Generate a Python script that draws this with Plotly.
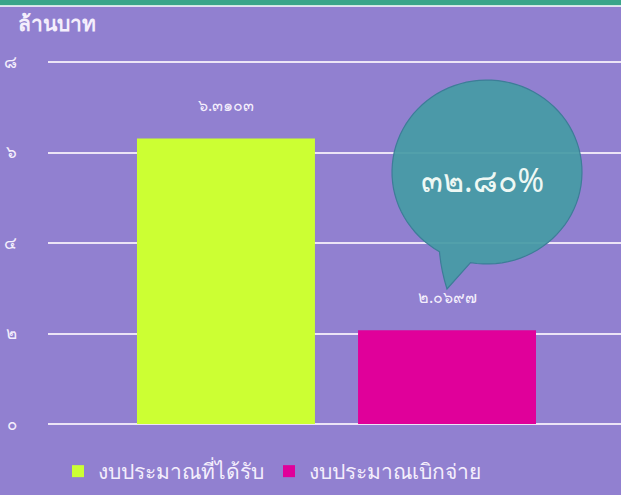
import plotly.graph_objects as go
import numpy as np

# ---- data ----
categories = ["งบประมาณที่ได้รับ", "งบประมาณเบิกจ่าย"]
values = [6.3103, 2.0697]
value_labels = ["๖.๓๑๐๓", "๒.๐๖๙๗"]
percent_label = "๓๒.๘๐%"
tick_vals = [0, 2, 4, 6, 8]
tick_text = ["๐", "๒", "๔", "๖", "๘"]
unit_title = "ล้านบาท"
bar_colors = ["#ccff33", "#e0009a"]

W, H = 621, 495
L, R, T, B = 48, 0, 56, 71
BG = "#9180d0"
TXT = "#f4eefc"
FONT = "Tahoma, 'Noto Sans', 'DejaVu Sans', sans-serif"
YMAX = 8 * (H - B - T) / 362.0

fig = go.Figure()
for i, (c, v) in enumerate(zip(categories, values)):
    fig.add_trace(go.Bar(
        x=[i], y=[v], name=c, marker=dict(color=bar_colors[i], line=dict(width=0)),
        width=0.805, showlegend=True, hoverinfo="skip",
    ))
    fig.add_annotation(x=i, y=v, xref="x", yref="y", text=value_labels[i],
                       showarrow=False, yshift=33, xanchor="center", yanchor="middle",
                       font=dict(color=TXT, size=16, family=FONT))

# helpers: pixel -> paper
pw, ph = W - L - R, H - T - B
def px(x):
    return (x - L) / pw
def py(y):
    return (H - B - y) / ph

# speech bubble
cx, cy, rx, ry = 487, 172, 95, 92
ts = np.deg2rad(np.linspace(120, 460, 90))
pts = [(cx + rx * np.cos(t), cy + ry * np.sin(t)) for t in ts]
path = "M %.4f,%.4f " % (px(pts[0][0]), py(pts[0][1]))
for (a, b) in pts[1:]:
    path += "L %.4f,%.4f " % (px(a), py(b))
path += "L %.4f,%.4f " % (px(447), py(289))
path += "Q %.4f,%.4f %.4f,%.4f Z" % (px(441), py(270), px(pts[0][0]), py(pts[0][1]))

fig.add_shape(type="path", path=path, xref="paper", yref="paper",
              fillcolor="rgba(70,155,165,0.93)", line=dict(color="#3d7d98", width=1.2),
              layer="above")
fig.add_annotation(x=px(482), y=py(179), xref="paper", yref="paper",
                   xanchor="center", yanchor="middle",
                   text=percent_label, showarrow=False,
                   font=dict(size=32, color="#eef8f4", family=FONT))

# top strip
fig.add_shape(type="rect", xref="paper", yref="paper",
              x0=px(-2), x1=px(W + 2), y0=py(6), y1=py(-4),
              fillcolor="#3aa58a", line=dict(color="#ffffff", width=1.5), layer="above")

# unit title
fig.add_annotation(x=px(16), y=py(23), xref="paper", yref="paper",
                   xanchor="left", yanchor="middle",
                   text="<b>" + unit_title + "</b>", showarrow=False,
                   font=dict(size=21, color=TXT, family=FONT))

fig.update_layout(
    width=W, height=H, margin=dict(l=L, r=R, t=T, b=B),
    paper_bgcolor=BG, plot_bgcolor=BG,
    hovermode=False,
    xaxis=dict(range=[-0.805, 1.787], showticklabels=False, showgrid=False,
               zeroline=False, showline=False, fixedrange=True),
    yaxis=dict(range=[0, YMAX], tickvals=tick_vals, ticktext=tick_text,
               showgrid=True, gridcolor="#ece4f6", gridwidth=2,
               zeroline=True, zerolinecolor="#ece4f6", zerolinewidth=2,
               showline=False, ticklabelstandoff=30, fixedrange=True,
               tickfont=dict(size=17, color=TXT, family=FONT)),
    legend=dict(orientation="h", x=px(272), xanchor="center", y=py(451), yanchor="top",
                font=dict(size=21, color=TXT, family=FONT), itemwidth=30,
                traceorder="normal"),
    showlegend=True,
)

fig.write_html("out.html", config={"displayModeBar": False, "staticPlot": True},
               post_script="document.body.style.margin='0';document.body.style.padding='0';document.body.style.overflow='hidden';")
